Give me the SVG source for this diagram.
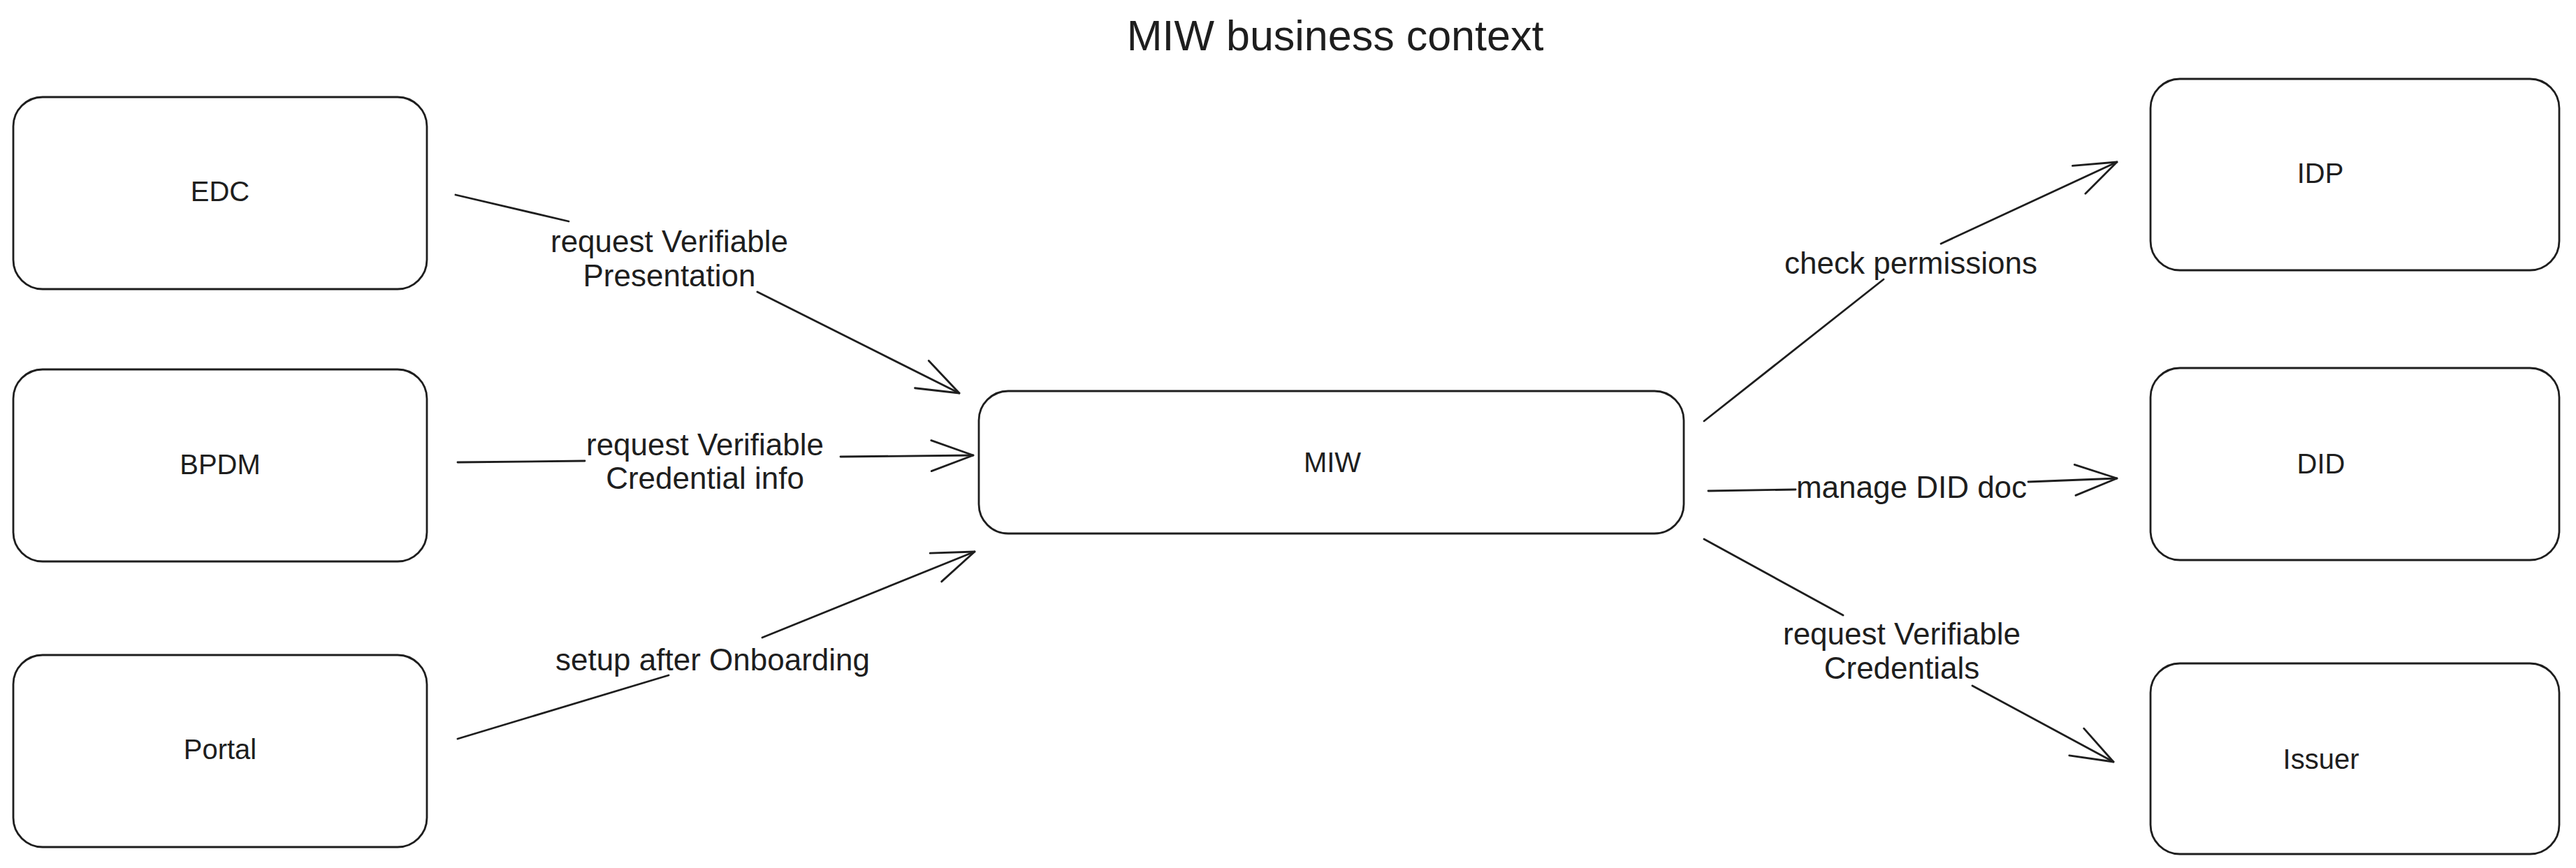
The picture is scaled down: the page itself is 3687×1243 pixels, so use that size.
<svg xmlns="http://www.w3.org/2000/svg" width="3687" height="1243" viewBox="0 0 3687 1243">
<style>
.box{fill:#ffffff;stroke:#1e1e1e;stroke-width:2.8}
.lbl{font-family:"Liberation Sans",Arial,sans-serif;font-size:40px;fill:#1e1e1e;text-anchor:middle;dominant-baseline:central}
.elbl{font-family:"Liberation Sans",Arial,sans-serif;font-size:44px;fill:#1e1e1e;text-anchor:middle;dominant-baseline:central}
.title{font-family:"Liberation Sans",Arial,sans-serif;font-size:61px;fill:#1e1e1e;text-anchor:middle}
.conn{fill:none;stroke:#1e1e1e;stroke-width:2.8;stroke-linecap:round;stroke-linejoin:round}
</style>
<defs>
<marker id="arr" markerUnits="userSpaceOnUse" markerWidth="80" markerHeight="60" refX="0" refY="0" viewBox="-70 -30 80 60" orient="auto" overflow="visible">
<path d="M -60 -22 L 0 0 L -60 22" fill="none" stroke="#1e1e1e" stroke-width="2.8" stroke-linecap="round" stroke-linejoin="round"/>
</marker>
</defs>
<rect width="3687" height="1243" fill="#ffffff"/>
<text id="title" class="title" x="1911" y="72">MIW business context</text>

<g id="connectors">
<g id="edc-miw">
<path class="conn" d="M 652 279 L 814 317 M 1084 418 L 1373 563" marker-end="url(#arr)"/>
<text class="elbl" x="958" y="345">request Verifiable</text>
<text class="elbl" x="958" y="394">Presentation</text>
</g>
<g id="bpdm-miw">
<path class="conn" d="M 655 662 L 837 660 M 1203 654 L 1393 652" marker-end="url(#arr)"/>
<text class="elbl" x="1009" y="636">request Verifiable</text>
<text class="elbl" x="1009" y="684">Credential info</text>
</g>
<g id="portal-miw">
<path class="conn" d="M 655 1058 L 957 967 M 1091 913 L 1395 790" marker-end="url(#arr)"/>
<text class="elbl" x="1020" y="944">setup after Onboarding</text>
</g>
<g id="miw-idp">
<path class="conn" d="M 2439 603 L 2696 400 M 2778 349 L 3030 232" marker-end="url(#arr)"/>
<text class="elbl" x="2735" y="376">check permissions</text>
</g>
<g id="miw-did">
<path class="conn" d="M 2445 703 L 2570 701 M 2903 690 L 3030 685" marker-end="url(#arr)"/>
<text class="elbl" x="2736" y="697">manage DID doc</text>
</g>
<g id="miw-issuer">
<path class="conn" d="M 2439 772 L 2638 881 M 2823 982 L 3025 1091" marker-end="url(#arr)"/>
<text class="elbl" x="2722" y="907">request Verifiable</text>
<text class="elbl" x="2722" y="956">Credentials</text>
</g>
</g>

<g id="node-edc">
<rect class="box" x="19" y="139" width="592" height="275" rx="42"/>
<text class="lbl" x="315" y="274">EDC</text>
</g>
<g id="node-bpdm">
<rect class="box" x="19" y="529" width="592" height="275" rx="42"/>
<text class="lbl" x="315" y="665">BPDM</text>
</g>
<g id="node-portal">
<rect class="box" x="19" y="938" width="592" height="275" rx="42"/>
<text class="lbl" x="315" y="1073">Portal</text>
</g>
<g id="node-miw">
<rect class="box" x="1401" y="560" width="1009" height="204" rx="42"/>
<text class="lbl" x="1907" y="662">MIW</text>
</g>
<g id="node-idp">
<rect class="box" x="3078" y="113" width="585" height="274" rx="42"/>
<text class="lbl" x="3321" y="248">IDP</text>
</g>
<g id="node-did">
<rect class="box" x="3078" y="527" width="585" height="275" rx="42"/>
<text class="lbl" x="3322" y="664">DID</text>
</g>
<g id="node-issuer">
<rect class="box" x="3078" y="950" width="585" height="273" rx="42"/>
<text class="lbl" x="3322" y="1087">Issuer</text>
</g>
</svg>
